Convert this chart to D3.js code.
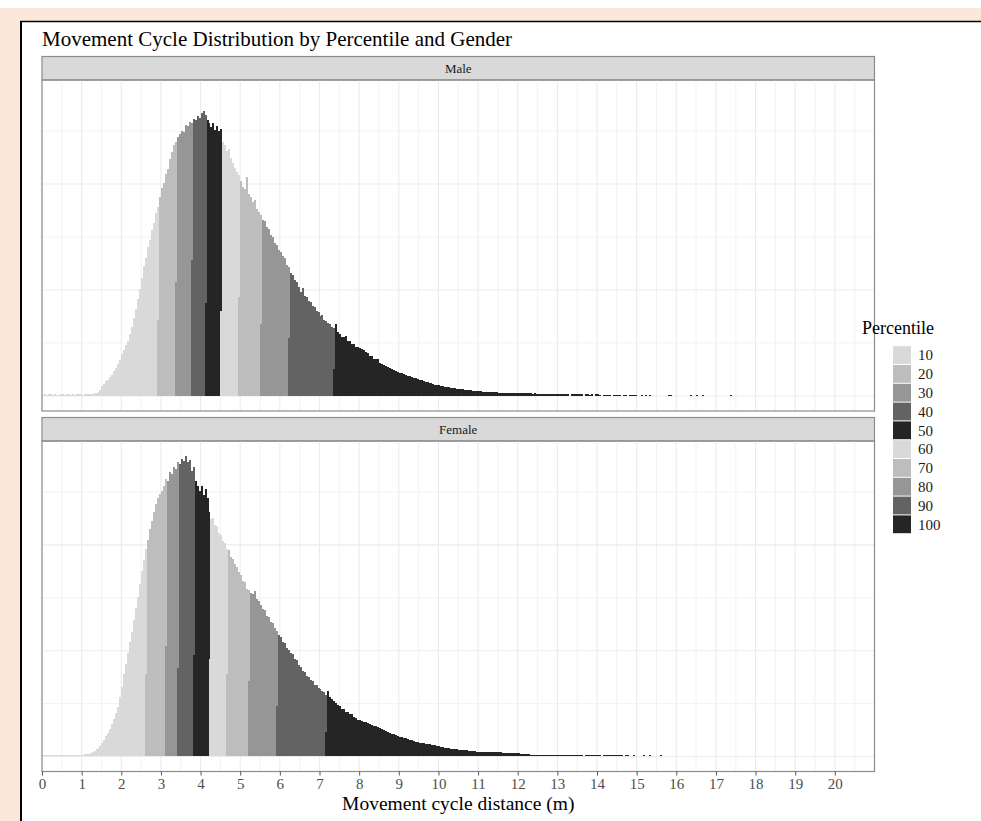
<!DOCTYPE html>
<html>
<head>
<meta charset="utf-8">
<script src="https://cdnjs.cloudflare.com/ajax/libs/d3/7.8.5/d3.min.js"></script>
<style>
  body { margin: 0; background: #ffffff; }
  svg { display: block; font-family: "Liberation Serif", "DejaVu Serif", serif; }
</style>
</head>
<body>
<div id="main_center"></div>
<script>
// histogram counts, one value per 0.05 m bin starting at 0
var binWidth = 0.05;

var maleCounts = [
  12, 15, 10, 14, 18, 11, 16, 13, 9, 17,
  14, 12, 19, 15, 11, 16, 13, 18, 14, 17,
  12, 20, 15, 19, 22, 18, 24, 30, 42, 58,
  95, 110, 138, 150, 176, 198, 236, 262, 305, 340,
  392, 430, 478, 522, 585, 650, 735, 820, 915, 1010,
  1115, 1225, 1300, 1410, 1475, 1570, 1630, 1730, 1785, 1880,
  1960, 2010, 2095, 2140, 2235, 2300, 2365, 2400, 2445, 2470,
  2505, 2490, 2560, 2545, 2590, 2575, 2615, 2600, 2640, 2625,
  2670, 2694, 2655, 2600, 2580, 2540, 2575, 2510, 2545, 2500,
  2520, 2395, 2370, 2310, 2330, 2250, 2200, 2150, 2110, 2085,
  2030, 1975, 1950, 2070, 1905, 1880, 1830, 1845, 1760, 1735,
  1705, 1660, 1655, 1590, 1575, 1515, 1500, 1440, 1425, 1380,
  1355, 1320, 1300, 1240, 1220, 1165, 1140, 1095, 1075, 1025,
  985, 1020, 945, 935, 895, 890, 850, 840, 800, 790,
  755, 760, 715, 705, 685, 675, 655, 645, 675, 600,
  585, 560, 555, 565, 515, 520, 495, 490, 465, 462,
  448, 442, 436, 412, 405, 380, 375, 350, 345, 352,
  310, 300, 290, 285, 270, 262, 250, 242, 235, 229,
  220, 212, 205, 198, 190, 184, 178, 170, 165, 158,
  152, 146, 140, 134, 128, 122, 118, 113, 108, 104,
  100, 96, 93, 89, 86, 82, 79, 75, 72, 69,
  66, 64, 61, 59, 56, 54, 52, 50, 48, 46,
  45, 43, 42, 40, 39, 37, 36, 35, 34, 33,
  32, 31, 30, 31, 29, 30, 28, 29, 27, 28,
  27, 26, 27, 25, 26, 24, 25, 23, 24, 22,
  22, 21, 22, 20, 21, 19, 20, 19, 18, 19,
  18, 17, 18, 17, 16, 17, 0, 15, 16, 15,
  16, 15, 14, 0, 14, 15, 13, 14, 0, 14,
  14, 13, 0, 13, 12, 13, 11, 0, 11, 12,
  12, 11, 0, 11, 10, 0, 10, 9, 10, 9,
  0, 0, 5, 0, 4, 0, 4, 0, 0, 0,
  0, 0, 0, 0, 0, 0, 3, 3, 0, 0,
  0, 0, 0, 0, 0, 0, 0, 3, 0, 0,
  3, 0, 0, 3, 0, 0, 0, 0, 0, 0,
  0, 0, 0, 0, 0, 0, 0, 3, 0, 0
];

var femaleCounts = [
  10, 14, 9, 12, 16, 11, 13, 10, 15, 12,
  9, 14, 11, 16, 13, 12, 15, 11, 17, 14,
  16, 19, 22, 26, 35, 42, 52, 66, 80, 100,
  128, 155, 190, 225, 262, 308, 350, 410, 470, 560,
  660, 780, 870, 980, 1080, 1180, 1290, 1400, 1510, 1630,
  1750, 1860, 1960, 2050, 2150, 2230, 2310, 2390, 2440, 2480,
  2510, 2560, 2620, 2600, 2690, 2670, 2740, 2720, 2780, 2760,
  2810, 2790, 2840, 2780, 2800, 2700, 2740, 2600, 2560, 2510,
  2560, 2470, 2530, 2440, 2310, 2240, 2250, 2190, 2175, 2110,
  2090, 2040, 2020, 1960, 1950, 1890, 1870, 1815, 1790, 1745,
  1715, 1660, 1650, 1585, 1575, 1545, 1540, 1565, 1485, 1465,
  1435, 1395, 1380, 1330, 1320, 1275, 1260, 1215, 1190, 1145,
  1125, 1085, 1070, 1025, 1010, 975, 965, 925, 910, 865,
  845, 810, 800, 765, 755, 720, 715, 680, 675, 650,
  640, 615, 605, 580, 615, 565, 545, 520, 510, 485,
  475, 450, 445, 425, 425, 405, 400, 375, 365, 342,
  345, 338, 330, 327, 320, 310, 300, 292, 285, 275,
  265, 255, 248, 240, 232, 222, 215, 208, 200, 193,
  186, 180, 175, 170, 165, 158, 152, 146, 141, 136,
  132, 128, 125, 122, 118, 115, 111, 108, 104, 100,
  96, 92, 88, 84, 80, 76, 73, 71, 69, 67,
  65, 63, 61, 59, 57, 55, 52, 50, 48, 46,
  44, 42, 41, 43, 41, 42, 40, 41, 39, 41,
  40, 38, 37, 36, 35, 34, 33, 34, 32, 31,
  30, 28, 26, 25, 24, 20, 16, 14, 13, 14,
  12, 13, 11, 12, 14, 11, 12, 10, 11, 12,
  11, 10, 12, 9, 11, 10, 9, 11, 10, 9,
  10, 8, 9, 0, 8, 9, 10, 8, 9, 8,
  9, 8, 0, 9, 8, 7, 8, 9, 7, 8,
  8, 7, 8, 0, 7, 8, 0, 0, 5, 0,
  0, 0, 0, 5, 0, 0, 5, 0, 0, 0,
  0, 0, 5, 0, 0, 0, 0, 0, 0, 0
];

// bin where each decile boundary falls, and the share of that bin
// that belongs to the next decile (drawn at the bottom of the stack)
var maleCutBins = [58, 67, 75, 82, 90, 99, 110, 124, 147];
var maleCutShare = [0.4, 0.45, 0.5, 0.33, 0.32, 0.45, 0.4, 0.45, 0.4];
var femaleCutBins = [52, 62, 68, 76, 84, 93, 104, 118, 143];
var femaleCutShare = [0.4, 0.4, 0.3, 0.35, 0.4, 0.4, 0.45, 0.4, 0.4];

var percentiles = ["10", "20", "30", "40", "50", "60", "70", "80", "90", "100"];
var greys = ["#d9d9d9", "#bdbdbd", "#969696", "#636363", "#252525"];
var genders = ["Male", "Female"];

var xTicks = [0, 1, 2, 3, 4, 5, 6, 7, 8, 9, 10, 11, 12, 13, 14, 15, 16, 17, 18, 19, 20];
var xMinor = [0.5, 1.5, 2.5, 3.5, 4.5, 5.5, 6.5, 7.5, 8.5, 9.5, 10.5, 11.5, 12.5, 13.5, 14.5, 15.5, 16.5, 17.5, 18.5, 19.5, 20.5];
var yBreaks = [0, 1000, 2000];
var yMinor = [500, 1500, 2500];

var width = 981, height = 821;

var svg = d3.select("#main_center").append("svg")
    .attr("width", width)
    .attr("height", height);

// the peach frame and black edge from the source document
svg.append("rect").attr("x", 0).attr("y", 8).attr("width", width).attr("height", 13).attr("fill", "#fbe8da");
svg.append("rect").attr("x", 0).attr("y", 8).attr("width", 20).attr("height", height - 8).attr("fill", "#fbe8da");
svg.append("line").attr("x1", 20).attr("x2", width).attr("y1", 21.5).attr("y2", 21.5)
    .attr("stroke", "#000").attr("stroke-width", 1.6);
svg.append("line").attr("x1", 21).attr("x2", 21).attr("y1", 21).attr("y2", height)
    .attr("stroke", "#000").attr("stroke-width", 2);

svg.append("text")
    .attr("x", 42)
    .attr("y", 46)
    .attr("font-size", "21px")
    .attr("fill", "#000")
    .text("Movement Cycle Distribution by Percentile and Gender");

var panelLeft = 42, panelRight = 874.5;
var facets = [
  {name: genders[0], counts: maleCounts, cuts: maleCutBins, shares: maleCutShare, stripTop: 56.5, panelTop: 80, panelBottom: 411},
  {name: genders[1], counts: femaleCounts, cuts: femaleCutBins, shares: femaleCutShare, stripTop: 417.5, panelTop: 441, panelBottom: 771.5}
];

var x = d3.scaleLinear().domain([0, 21]).range([panelLeft, panelRight]);

// shared y scale, ggplot style 5% padding
var yMax = d3.max(maleCounts.concat(femaleCounts));

var make_segments = function(counts, cuts, shares) {
  var segs = [];
  counts.forEach(function(c, k) {
    if (c <= 0) return;
    var j = cuts.indexOf(k);
    if (j >= 0) {
      var low = c * shares[j];
      segs.push({k: k, y0: 0, y1: low, p: j + 1});
      segs.push({k: k, y0: low, y1: c, p: j});
    } else {
      var d = cuts.filter(function(b) { return b < k; }).length;
      segs.push({k: k, y0: 0, y1: c, p: d});
    }
  });
  return segs;
};

facets.forEach(function(f) {
  var y = d3.scaleLinear()
      .domain([-0.05 * yMax, 1.05 * yMax])
      .range([f.panelBottom, f.panelTop]);

  // strip
  svg.append("rect")
      .attr("x", panelLeft).attr("y", f.stripTop)
      .attr("width", panelRight - panelLeft).attr("height", f.panelTop - f.stripTop)
      .attr("fill", "#d9d9d9").attr("stroke", "#8c8c8c").attr("stroke-width", 1.2);
  svg.append("text")
      .attr("x", (panelLeft + panelRight) / 2)
      .attr("y", (f.stripTop + f.panelTop) / 2)
      .attr("dy", "0.35em")
      .attr("text-anchor", "middle")
      .attr("font-size", "13px")
      .attr("fill", "#1a1a1a")
      .text(f.name);

  var g = svg.append("g");

  // grid
  g.selectAll(".vminor").data(xMinor).enter().append("line")
      .attr("x1", function(d) { return x(d); }).attr("x2", function(d) { return x(d); })
      .attr("y1", f.panelTop).attr("y2", f.panelBottom)
      .attr("stroke", "#f0f0f0").attr("stroke-width", 0.9);
  g.selectAll(".hminor").data(yMinor).enter().append("line")
      .attr("x1", panelLeft).attr("x2", panelRight)
      .attr("y1", function(d) { return y(d); }).attr("y2", function(d) { return y(d); })
      .attr("stroke", "#f0f0f0").attr("stroke-width", 0.9);
  g.selectAll(".vmajor").data(xTicks).enter().append("line")
      .attr("x1", function(d) { return x(d); }).attr("x2", function(d) { return x(d); })
      .attr("y1", f.panelTop).attr("y2", f.panelBottom)
      .attr("stroke", "#ebebeb").attr("stroke-width", 1.1);
  g.selectAll(".hmajor").data(yBreaks).enter().append("line")
      .attr("x1", panelLeft).attr("x2", panelRight)
      .attr("y1", function(d) { return y(d); }).attr("y2", function(d) { return y(d); })
      .attr("stroke", "#ebebeb").attr("stroke-width", 1.1);

  // bars, stacked by percentile group; tiny counts still get a 1px sliver
  g.selectAll(".bar")
      .data(make_segments(f.counts, f.cuts, f.shares))
    .enter().append("rect")
      .attr("class", "bar")
      .attr("shape-rendering", "crispEdges")
      .attr("x", function(d) { return x(d.k * binWidth); })
      .attr("width", function(d) { return x((d.k + 1) * binWidth) - x(d.k * binWidth); })
      .attr("y", function(d) { return Math.min(y(d.y1), y(d.y0) - 1.2); })
      .attr("height", function(d) { return Math.max(y(d.y0) - y(d.y1), 1.2); })
      .attr("fill", function(d) { return greys[d.p % 5]; });

  // panel border
  svg.append("rect")
      .attr("x", panelLeft).attr("y", f.panelTop)
      .attr("width", panelRight - panelLeft).attr("height", f.panelBottom - f.panelTop)
      .attr("fill", "none").attr("stroke", "#8c8c8c").attr("stroke-width", 1.2);
});

// x axis under the bottom panel
var xAxis = svg.append("g")
    .attr("transform", "translate(0," + facets[1].panelBottom + ")")
    .call(d3.axisBottom(x).tickValues(xTicks).tickSize(4).tickPadding(3).tickFormat(d3.format("d")));
xAxis.select(".domain").remove();
xAxis.attr("font-family", null);
xAxis.selectAll("line").attr("stroke", "#555");
xAxis.selectAll("text").attr("font-size", "15px").attr("fill", "#4d4d4d");

svg.append("text")
    .attr("x", (panelLeft + panelRight) / 2)
    .attr("y", 810)
    .attr("text-anchor", "middle")
    .attr("font-size", "19.5px")
    .attr("fill", "#000")
    .text("Movement cycle distance (m)");

// legend
var legend = svg.append("g").attr("transform", "translate(862,0)");
legend.append("text")
    .attr("x", 0).attr("y", 334)
    .attr("font-size", "18px")
    .attr("fill", "#000")
    .text("Percentile");

var keyTop = 345.7, keyStep = 18.8;
var keys = legend.selectAll(".key").data(percentiles).enter().append("g")
    .attr("class", "key")
    .attr("transform", function(d, i) { return "translate(0," + (keyTop + i * keyStep) + ")"; });
keys.append("rect")
    .attr("x", 31).attr("y", 0.5)
    .attr("width", 18).attr("height", keyStep - 1)
    .attr("fill", function(d, i) { return greys[i % 5]; });
keys.append("text")
    .attr("x", 56).attr("y", keyStep / 2)
    .attr("dy", "0.35em")
    .attr("font-size", "15px")
    .attr("fill", "#1a1a1a")
    .text(function(d) { return d; });
</script>
</body>
</html>
